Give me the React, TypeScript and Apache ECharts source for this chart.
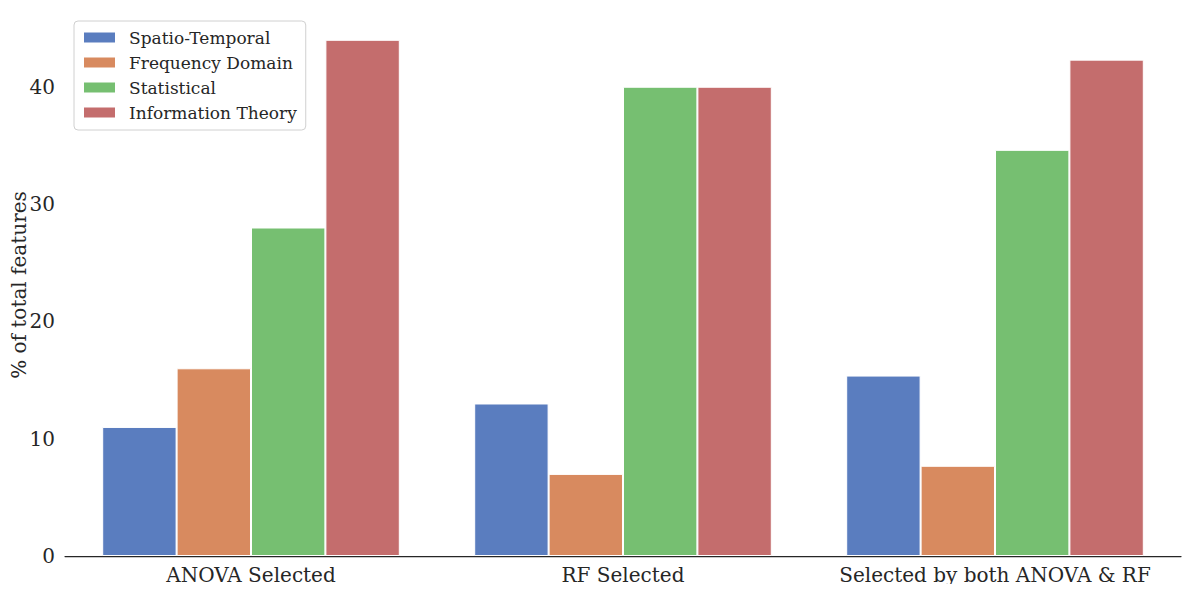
import React, { useEffect, useRef } from "react";
import * as echarts from "echarts";

const categories = ["ANOVA Selected", "RF Selected", "Selected by both ANOVA & RF"];
const seriesNames = ["Spatio-Temporal", "Frequency Domain", "Statistical", "Information Theory"];
const spatioTemporal = [11, 13, 15.38];
const frequencyDomain = [16, 7, 7.69];
const statistical = [28, 40, 34.62];
const informationTheory = [44, 40, 42.31];
const colors = ["#5a7dbf", "#d88a5f", "#76bf71", "#c46d6d"];
const yTicks = [0, 10, 20, 30, 40];

const FONT = "DejaVu Serif";

export default function App() {
  const ref = useRef<HTMLDivElement>(null);
  useEffect(() => {
    const chart = echarts.init(ref.current!, undefined, { renderer: "svg" });
    const values = [spatioTemporal, frequencyDomain, statistical, informationTheory];
    chart.setOption({
      animation: false,
      backgroundColor: "#ffffff",
      textStyle: { fontFamily: FONT },
      grid: { left: 65, right: 13, top: 14, bottom: 36, containLabel: false, outerBoundsMode: "none" },
      legend: {
        orient: "vertical",
        left: 74,
        top: 21,
        itemWidth: 33,
        itemHeight: 12,
        itemGap: 8,
        padding: [8, 9, 9, 8],
        borderColor: "#d0d0d0",
        borderWidth: 1,
        borderRadius: 4,
        backgroundColor: "#ffffff",
        data: seriesNames.map((n) => ({ name: n, icon: "rect" })),
        textStyle: { fontFamily: FONT, fontSize: 17, color: "#262626", padding: [0, 0, 0, 8] },
      },
      xAxis: {
        type: "category",
        data: categories,
        axisLine: { show: true, lineStyle: { color: "#262626", width: 1.25 } },
        axisTick: { show: false },
        axisLabel: { fontFamily: FONT, fontSize: 20, color: "#262626", margin: 9, interval: 0 },
        splitLine: { show: false },
      },
      yAxis: {
        type: "value",
        min: 0,
        max: 46.2,
        interval: 10,
        name: "% of total features",
        nameLocation: "middle",
        nameGap: 36,
        nameMoveOverlap: false,
        nameRotate: 90,
        nameTextStyle: { fontFamily: FONT, fontSize: 20, color: "#262626" },
        axisLine: { show: false },
        axisTick: { show: false },
        splitLine: { show: false },
        axisLabel: {
          fontFamily: FONT,
          fontSize: 20,
          color: "#262626",
          margin: 10,
          formatter: (v: number) => (yTicks.includes(v) ? String(v) : ""),
        },
      },
      series: seriesNames.map((name, i) => ({
        name,
        type: "bar",
        data: values[i],
        barGap: "0%",
        barCategoryGap: "20%",
        itemStyle: { color: colors[i], borderColor: "#ffffff", borderWidth: 1 },
      })),
    });
    return () => chart.dispose();
  }, []);
  return <div ref={ref} style={{ width: 1194, height: 592, margin: -8 }} />;
}
